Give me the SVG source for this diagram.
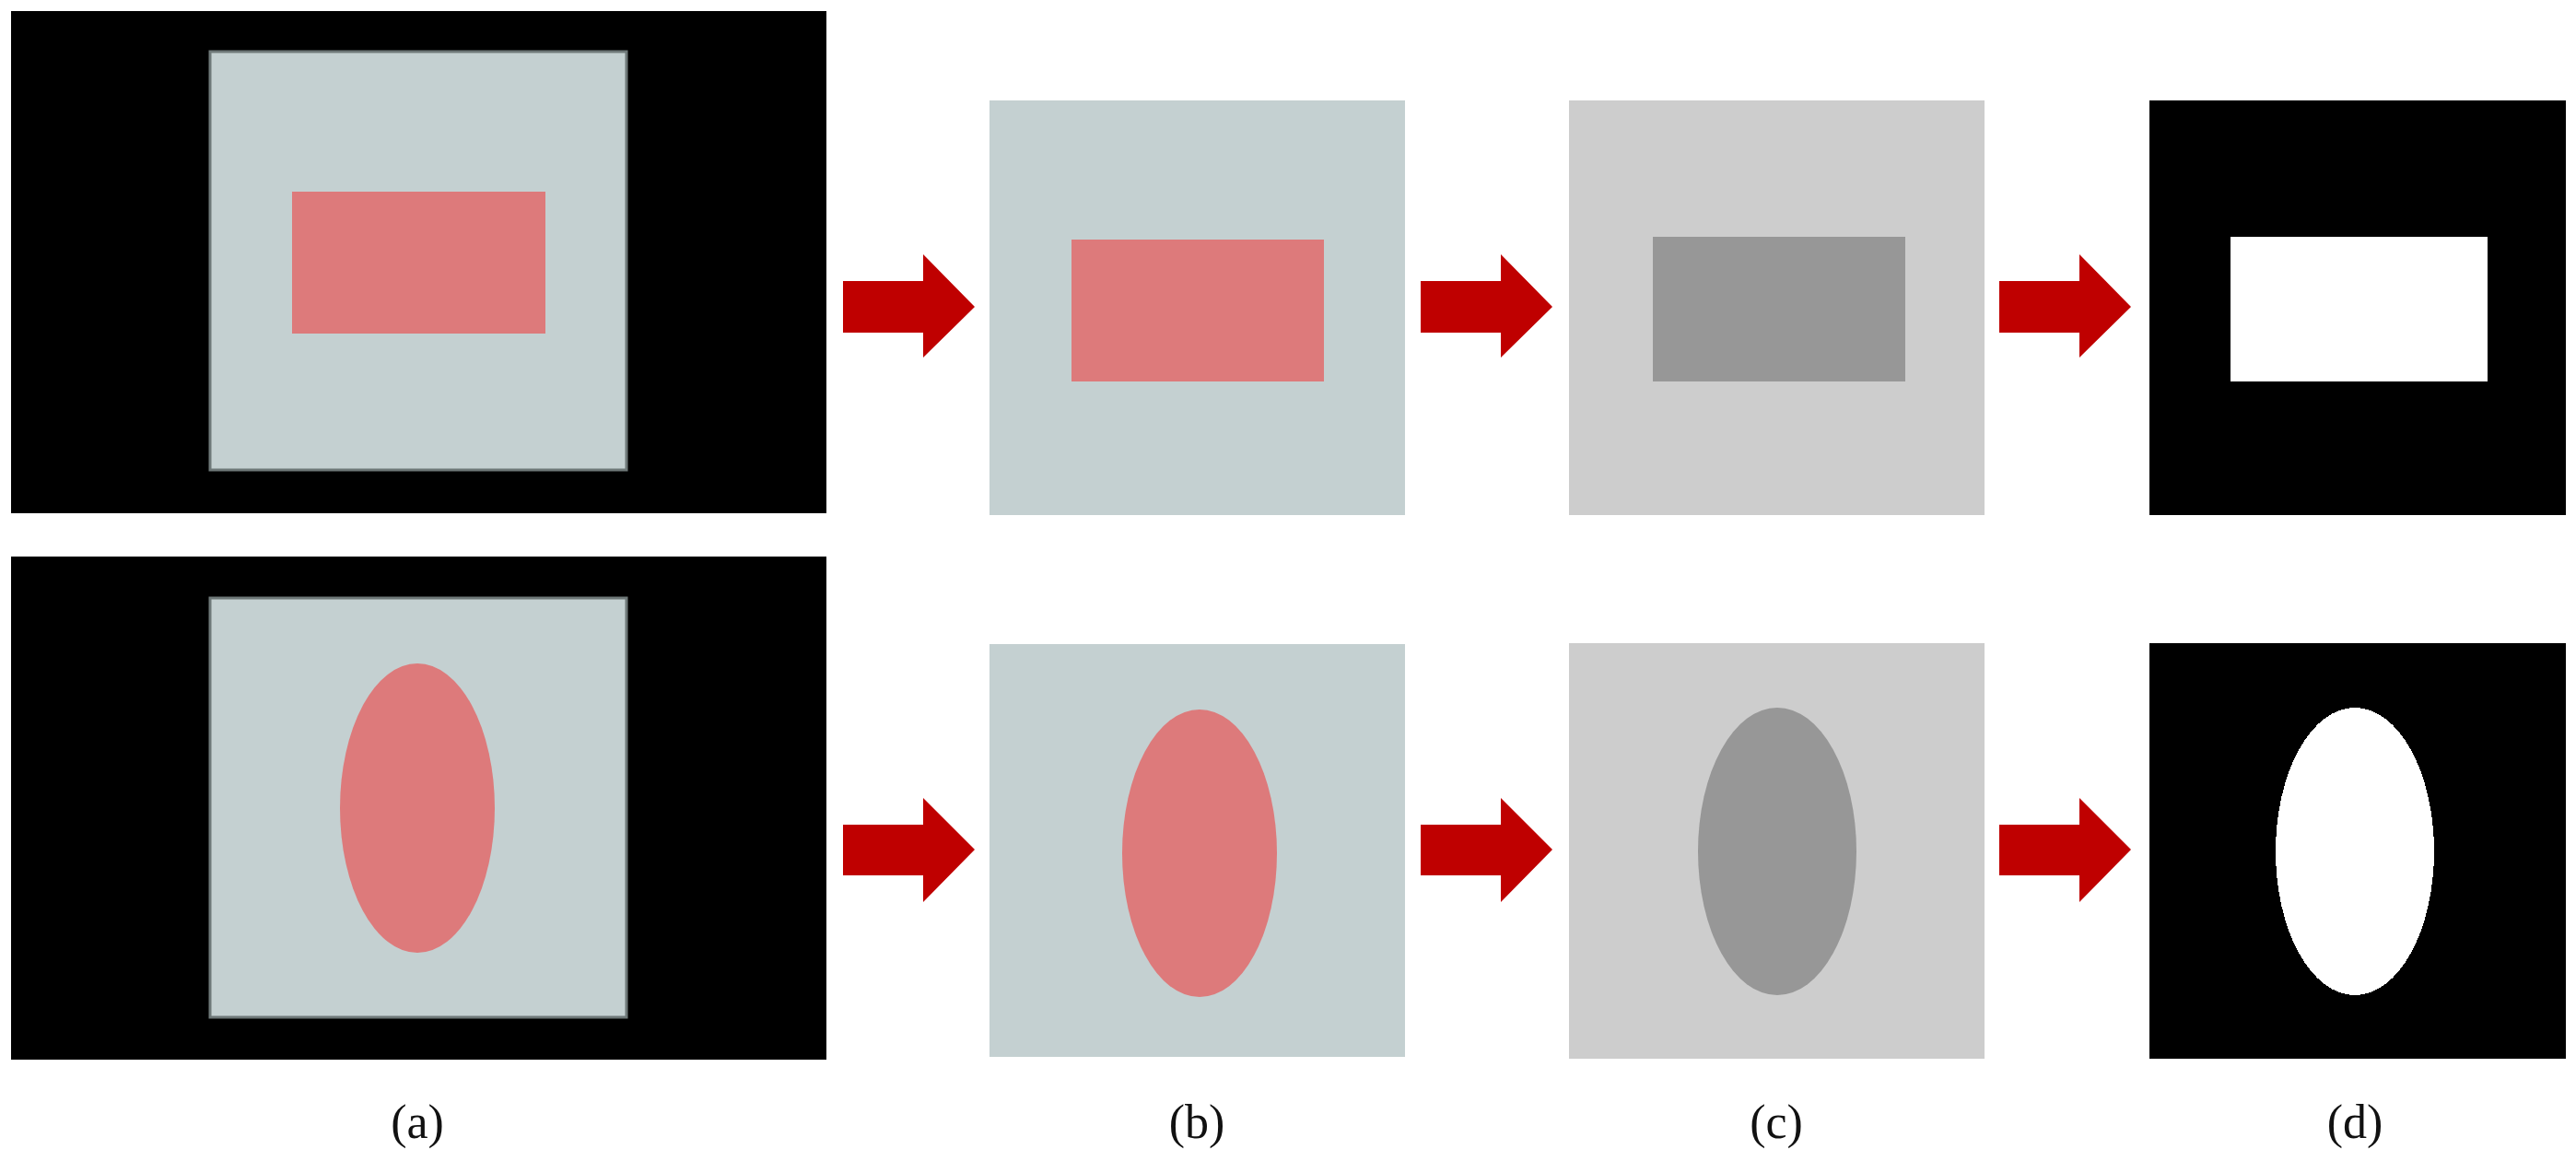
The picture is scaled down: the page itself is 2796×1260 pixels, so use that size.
<svg xmlns="http://www.w3.org/2000/svg" width="2796" height="1260" viewBox="0 0 2796 1260">
<style>
.blk{fill:#000}
.gb{fill:#c4d0d1}
.gbb{fill:#c4d0d1;stroke:#6e7878;stroke-width:3}
.pk{fill:#dd7a7b}
.lg{fill:#cdcdcd}
.dg{fill:#979797}
.wh{fill:#fff}
.arr{fill:#bf0000}
.lbl{font-family:"Liberation Serif",serif;font-size:52px;fill:#111;text-anchor:middle}
</style>
<rect width="2796" height="1260" fill="#fff"/>
<g id="a-top"><rect class="blk" x="12" y="12" width="885" height="545"/><rect class="gbb" x="228" y="56" width="452" height="454"/><rect class="pk" x="317" y="208" width="275" height="154"/></g>
<g id="b-top"><rect class="gb" x="1074" y="109" width="451" height="450"/><rect class="pk" x="1163" y="260" width="274" height="154"/></g>
<g id="c-top"><rect class="lg" x="1703" y="109" width="451" height="450"/><rect class="dg" x="1794" y="257" width="274" height="157"/></g>
<g id="d-top"><rect class="blk" x="2333" y="109" width="452" height="450"/><rect class="wh" x="2421" y="257" width="279" height="157"/></g>
<g id="a-bot"><rect class="blk" x="12" y="604" width="885" height="546"/><rect class="gbb" x="228" y="649" width="452" height="455"/><ellipse class="pk" cx="453" cy="877" rx="84" ry="157"/></g>
<g id="b-bot"><rect class="gb" x="1074" y="699" width="451" height="448"/><ellipse class="pk" cx="1302" cy="926" rx="84" ry="156"/></g>
<g id="c-bot"><rect class="lg" x="1703" y="698" width="451" height="451"/><ellipse class="dg" cx="1929" cy="924" rx="86" ry="156"/></g>
<g id="d-bot"><rect class="blk" x="2333" y="698" width="452" height="451"/><ellipse class="wh" cx="2556" cy="924" rx="86" ry="156" shape-rendering="crispEdges"/></g>
<g id="connectors">
<polygon class="arr" points="915,305 1002,305 1002,276 1058,333 1002,388 1002,361 915,361"/>
<polygon class="arr" points="1542,305 1629,305 1629,276 1685,333 1629,388 1629,361 1542,361"/>
<polygon class="arr" points="2170,305 2257,305 2257,276 2313,333 2257,388 2257,361 2170,361"/>
<polygon class="arr" points="915,895 1002,895 1002,866 1058,922 1002,979 1002,950 915,950"/>
<polygon class="arr" points="1542,895 1629,895 1629,866 1685,922 1629,979 1629,950 1542,950"/>
<polygon class="arr" points="2170,895 2257,895 2257,866 2313,922 2257,979 2257,950 2170,950"/>
</g>
<g id="labels">
<text class="lbl" x="453" y="1235">(a)</text>
<text class="lbl" x="1299" y="1235">(b)</text>
<text class="lbl" x="1928" y="1235">(c)</text>
<text class="lbl" x="2556" y="1235">(d)</text>
</g>
</svg>
